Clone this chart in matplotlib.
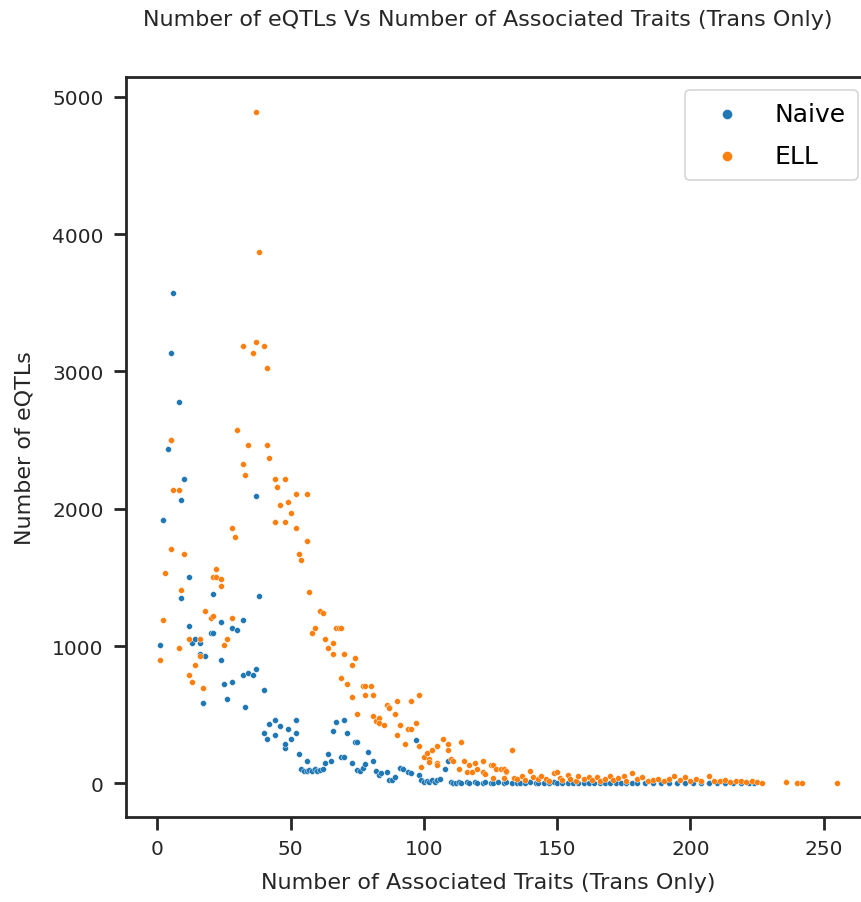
import matplotlib
matplotlib.use("Agg")
import matplotlib.pyplot as plt

# ---- data: (traits, eQTLs) pairs ----
naive_points = [
    (1, 1005), (2, 1921), (4, 2435), (5, 3134), (5, 2498), (6, 3569), (8, 2777),
    (9, 2061), (9, 1352), (10, 2216), (12, 1143), (12, 1500), (13, 1020), (14, 1051),
    (16, 1020), (16, 942), (17, 585), (18, 927), (20, 1097), (21, 1097), (21, 1377),
    (24, 1175), (24, 896), (25, 723), (26, 617), (28, 740), (28, 1129), (30, 1114),
    (32, 1189), (32, 787), (33, 553), (34, 803), (36, 787), (37, 833), (37, 2093),
    (38, 1362), (40, 677), (40, 366), (41, 320), (42, 430), (44, 461), (44, 352),
    (46, 415), (48, 257), (48, 289), (49, 398), (50, 320), (52, 366), (52, 461),
    (53, 211), (54, 102), (55, 88), (56, 165), (56, 88), (57, 95), (58, 88), (59, 102),
    (60, 88), (61, 95), (62, 103), (63, 146), (64, 211), (65, 162), (66, 381),
    (67, 444), (69, 194), (70, 194), (70, 459), (71, 366), (73, 148), (74, 304),
    (75, 304), (75, 97), (76, 90), (77, 109), (78, 140), (79, 226), (81, 162), (82, 90),
    (83, 61), (84, 73), (86, 85), (87, 24), (88, 24), (89, 49), (91, 109), (92, 103),
    (94, 85), (95, 73), (97, 318), (98, 61), (99, 24), (100, 12), (101, 18), (102, 12),
    (103, 24), (104, 12), (105, 24), (106, 30), (108, 102), (109, 162), (110, 12),
    (111, 0), (112, 5), (113, 10), (114, 4), (116, 8), (117, 3), (119, 10), (120, 6),
    (122, 2), (123, 9), (125, 5), (126, 0), (128, 7), (130, 3), (131, 10), (133, 4),
    (135, 0), (136, 6), (138, 2), (140, 8), (142, 3), (143, 0), (145, 5), (147, 2),
    (149, 7), (150, 0), (152, 4), (154, 2), (156, 6), (158, 0), (160, 3), (162, 5),
    (164, 1), (166, 4), (168, 0), (170, 2), (172, 6), (174, 1), (176, 3), (178, 0),
    (180, 4), (183, 2), (186, 0), (189, 3), (192, 1), (195, 5), (198, 0), (201, 2),
    (204, 1), (207, 0), (210, 2), (213, 0), (216, 1), (219, 0), (222, 2), (224, 0),
]
ell_points = [
    (1, 896), (2, 1189), (3, 1535), (5, 2498), (5, 1704), (6, 2139), (8, 2139),
    (8, 988), (9, 1408), (10, 1673), (12, 787), (12, 1051), (13, 740), (14, 864),
    (16, 927), (16, 1051), (17, 694), (18, 1253), (20, 1207), (21, 1221), (21, 1500),
    (22, 1500), (22, 1564), (24, 1486), (24, 1440), (25, 1005), (26, 1051), (28, 1207),
    (28, 1860), (29, 1797), (30, 2573), (32, 3183), (32, 2326), (33, 2248), (34, 2464),
    (36, 3134), (37, 4892), (37, 3212), (38, 3867), (40, 3183), (41, 3028), (41, 2464),
    (42, 2372), (44, 2216), (44, 1906), (45, 2156), (46, 2030), (48, 2216), (48, 1906),
    (49, 2047), (50, 1969), (52, 1860), (52, 2107), (53, 1673), (54, 1627), (56, 2107),
    (56, 1768), (57, 1391), (58, 1097), (59, 1129), (61, 1253), (62, 1238), (63, 1051),
    (64, 988), (66, 942), (66, 1020), (67, 1129), (68, 1129), (69, 1129), (69, 770),
    (70, 942), (71, 723), (73, 864), (73, 629), (74, 910), (75, 505), (77, 709),
    (78, 709), (78, 646), (80, 709), (81, 646), (81, 490), (82, 457), (83, 473),
    (83, 442), (85, 428), (86, 568), (87, 559), (87, 546), (89, 505), (90, 599),
    (90, 350), (91, 428), (93, 289), (94, 396), (95, 396), (95, 599), (97, 442),
    (98, 646), (98, 275), (99, 116), (100, 194), (101, 224), (102, 180), (102, 158),
    (103, 240), (105, 148), (105, 131), (105, 275), (107, 320), (109, 289), (109, 240),
    (110, 180), (111, 162), (113, 102), (114, 304), (115, 162), (116, 85), (117, 133),
    (118, 85), (119, 148), (120, 102), (122, 162), (122, 85), (123, 71), (125, 133),
    (126, 133), (126, 36), (127, 102), (129, 102), (130, 36), (130, 104), (131, 85),
    (131, 90), (133, 243), (134, 40), (135, 30), (137, 50), (138, 25), (140, 90),
    (141, 45), (143, 30), (144, 55), (146, 35), (147, 20), (149, 76), (150, 84),
    (151, 40), (152, 25), (154, 61), (155, 30), (157, 20), (158, 55), (160, 35),
    (162, 46), (163, 25), (165, 45), (166, 20), (168, 30), (170, 55), (171, 25),
    (173, 40), (175, 55), (176, 20), (178, 76), (180, 30), (182, 45), (184, 20),
    (186, 25), (188, 30), (190, 20), (192, 35), (194, 55), (196, 25), (198, 45),
    (200, 20), (202, 30), (204, 15), (207, 55), (209, 20), (211, 15), (213, 25),
    (215, 10), (217, 20), (219, 15), (221, 10), (223, 15), (225, 10), (227, 0),
    (236, 7), (240, 0), (242, 0), (255, 0),
]

series_labels = ["Naive", "ELL"]
series_colors = ["#1f77b4", "#ff7f0e"]

title = "Number of eQTLs Vs Number of Associated Traits (Trans Only)"
xlabel = "Number of Associated Traits (Trans Only)"
ylabel = "Number of eQTLs"
xticks = [0, 50, 100, 150, 200, 250]
yticks = [0, 1000, 2000, 3000, 4000, 5000]

naive_x = [p[0] for p in naive_points]
naive_y = [p[1] for p in naive_points]
ell_x = [p[0] for p in ell_points]
ell_y = [p[1] for p in ell_points]

# ---- figure ----
W, H = 862, 903
fig = plt.figure(figsize=(W / 100, H / 100), dpi=100)
left, right, bottom, top = 126, 871, 818, 78
aw, ah = right - left, bottom - top
ax = fig.add_axes([left / W, 1 - bottom / H, aw / W, ah / H])

ax.scatter(naive_x, naive_y, s=18, color=series_colors[0], edgecolors="white",
           linewidths=0.3, zorder=2, label=series_labels[0])
ax.scatter(ell_x, ell_y, s=18, color=series_colors[1], edgecolors="white",
           linewidths=0.3, zorder=3, label=series_labels[1])

ax.set_xlim(-11.7, 267.7)
ax.set_ylim(-245, 5145)
ax.set_xticks(xticks)
ax.set_yticks(yticks)

ink = "#262626"
for sp in ax.spines.values():
    sp.set_linewidth(2.0)
    sp.set_color(ink)
ax.tick_params(axis="both", which="major", direction="out", length=9, width=2.0,
               color=ink, labelsize=14.5, labelcolor=ink, pad=7)

ax.set_xlabel(xlabel, fontsize=16, color=ink)
ax.set_ylabel(ylabel, fontsize=16, color=ink)
ax.xaxis.set_label_coords((488 - left) / aw, -(873 - bottom) / ah)
ax.yaxis.set_label_coords(-(left - 34) / aw, 0.5)
fig.text(488 / W, 1 - 20 / H, title, ha="center", va="center", fontsize=16,
         color=ink)

leg = ax.legend(loc="upper right", fontsize=18, markerscale=1.7, frameon=True,
                fancybox=True, handlelength=2.4, handletextpad=0.7,
                borderpad=0.5, labelspacing=0.7)
leg.get_frame().set_edgecolor("#cccccc")
leg.get_frame().set_linewidth(1.2)

fig.savefig("out.png", dpi=100)
